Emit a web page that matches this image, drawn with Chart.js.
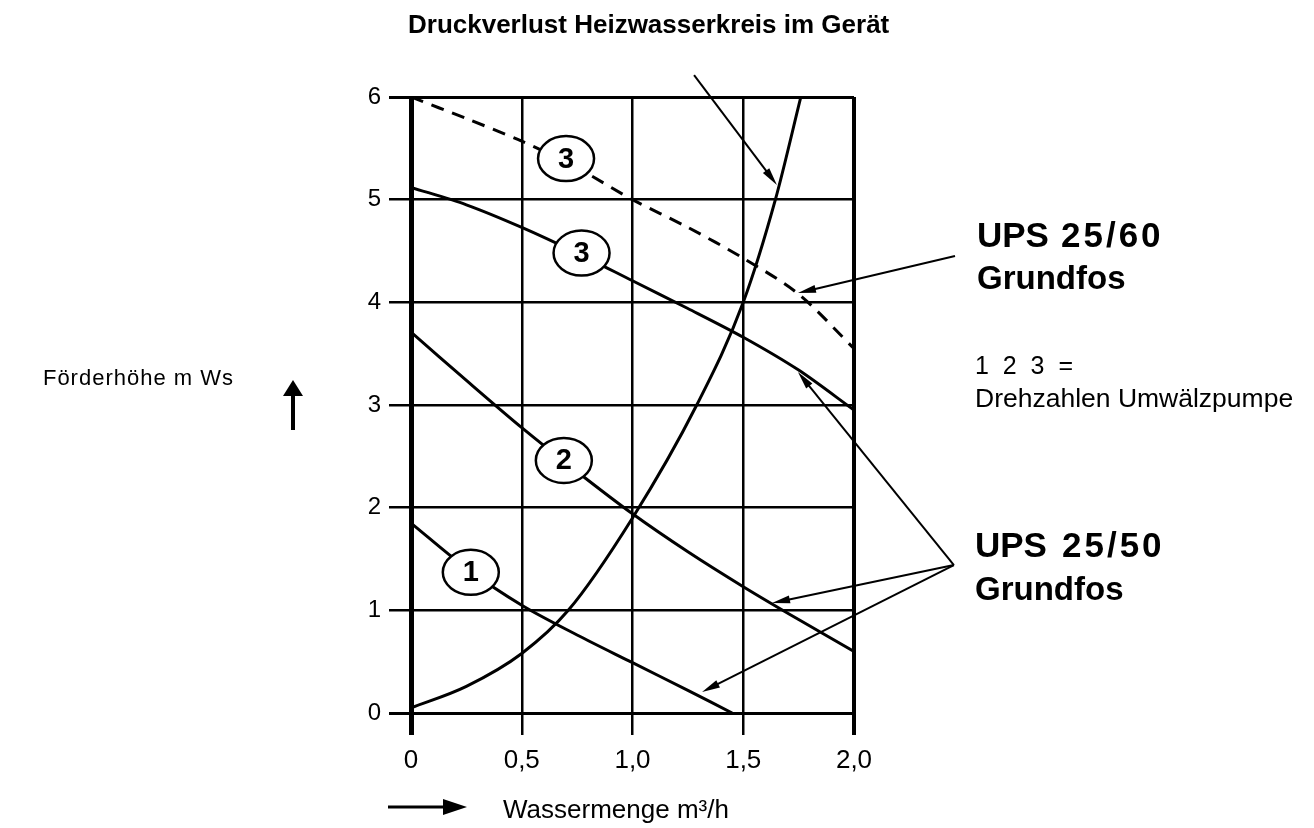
<!DOCTYPE html>
<html>
<head>
<meta charset="utf-8">
<script src="https://cdn.jsdelivr.net/npm/chart.js@4.4.1/dist/chart.umd.min.js"></script>
<style>
  html, body { margin: 0; padding: 0; background: #fff; }
  #wrap { width: 1314px; height: 828px; }
</style>
</head>
<body>
<div id="wrap"><canvas id="chart" width="1314" height="828"></canvas></div>
<script>
// Wassermenge in m³/h, Förderhöhe in m Ws
const flowSteps = [0, 0.25, 0.5, 0.75, 1.0, 1.25, 1.5, 1.75, 2.0];
const headUps60Stufe3 = [6.0, 5.79, 5.57, 5.31, 5.0, 4.73, 4.43, 4.08, 3.55];
const headUps50Stufe3 = [5.12, 4.95, 4.73, 4.48, 4.21, 3.94, 3.66, 3.34, 2.95];
const headUps50Stufe2 = [3.71, 3.24, 2.78, 2.35, 1.94, 1.57, 1.23, 0.91, 0.6];

const flowStufe1 = [0, 0.25, 0.5, 0.75, 1.0, 1.25, 1.45];
const headUps50Stufe1 = [1.85, 1.41, 1.05, 0.76, 0.49, 0.22, 0];

// Druckverlust Heizwasserkreis im Gerät
const flowGeraet = [0, 0.25, 0.5, 0.71, 1.0, 1.29, 1.5, 1.645, 1.76];
const headGeraet = [0.05, 0.26, 0.58, 1.0, 1.9, 3.0, 4.0, 5.0, 6.0];

// circled speed numbers sitting on the curves
const badgeX = [0.70, 0.77, 0.69, 0.27];
const badgeY = [5.40, 4.48, 2.46, 1.37];
const badgeText = ['3', '3', '2', '1'];

const xTickValues = [0, 0.5, 1.0, 1.5, 2.0];
const xTickLabels = ['0', '0,5', '1,0', '1,5', '2,0'];
const yTickValues = [0, 1, 2, 3, 4, 5, 6];
const yTickLabels = ['0', '1', '2', '3', '4', '5', '6'];

const FONT = '"Liberation Sans", Arial, Helvetica, sans-serif';

function pairs(xs, ys) {
    return xs.map((x, i) => ({ x: x, y: ys[i] }));
}

// leader lines, in axis units: [fromX, fromY, toX, toY]
const leaders = [
    [1.278, 6.214, 1.652, 5.143],   // Druckverlust -> Geräte-Kurve
    [2.456, 4.451, 1.747, 4.091],   // UPS 25/60 -> gestrichelte Kurve
    [2.451, 1.441, 1.747, 3.321],   // UPS 25/50 -> Stufe 3
    [2.451, 1.441, 1.630, 1.071],   // UPS 25/50 -> Stufe 2
    [2.451, 1.441, 1.314, 0.205]    // UPS 25/50 -> Stufe 1
];

function arrow(ctx, x1, y1, x2, y2, len, half) {
    const a = Math.atan2(y2 - y1, x2 - x1);
    ctx.beginPath();
    ctx.moveTo(x1, y1);
    ctx.lineTo(x2 - Math.cos(a) * len * 0.5, y2 - Math.sin(a) * len * 0.5);
    ctx.stroke();
    ctx.beginPath();
    ctx.moveTo(x2, y2);
    ctx.lineTo(x2 - len * Math.cos(a) + half * Math.sin(a), y2 - len * Math.sin(a) - half * Math.cos(a));
    ctx.lineTo(x2 - len * Math.cos(a) - half * Math.sin(a), y2 - len * Math.sin(a) + half * Math.cos(a));
    ctx.closePath();
    ctx.fill();
}

const sheetPlugin = {
    id: 'sheet',
    afterDatasetsDraw(chart) {
        const ctx = chart.ctx;
        const sx = chart.scales.x, sy = chart.scales.y;
        ctx.save();
        ctx.strokeStyle = '#000';
        ctx.fillStyle = '#000';
        ctx.lineWidth = 2;
        leaders.forEach(l => {
            arrow(ctx, sx.getPixelForValue(l[0]), sy.getPixelForValue(l[1]),
                sx.getPixelForValue(l[2]), sy.getPixelForValue(l[3]), 18, 4);
        });

        // circled numbers
        badgeX.forEach((bx, i) => {
            const px = sx.getPixelForValue(bx), py = sy.getPixelForValue(badgeY[i]);
            ctx.beginPath();
            ctx.ellipse(px, py, 28, 22.5, 0, 0, Math.PI * 2);
            ctx.fillStyle = '#fff';
            ctx.fill();
            ctx.lineWidth = 2.5;
            ctx.stroke();
            ctx.fillStyle = '#000';
            ctx.font = 'bold 29px ' + FONT;
            ctx.textAlign = 'center';
            ctx.textBaseline = 'middle';
            ctx.fillText(badgeText[i], px, py + 1);
        });
        ctx.restore();
    },
    afterDraw(chart) {
        const ctx = chart.ctx;
        const area = chart.chartArea;
        ctx.save();
        ctx.fillStyle = '#000';
        ctx.strokeStyle = '#000';
        ctx.textBaseline = 'alphabetic';
        ctx.textAlign = 'left';

        ctx.font = 'bold 26px ' + FONT;
        ctx.fillText('Druckverlust Heizwasserkreis im Gerät', 408, 33);

        ctx.font = 'bold 35px ' + FONT;
        ctx.fillText('UPS', 977, 247);
        ctx.fillText('UPS', 975, 557);
        ctx.letterSpacing = '3px';
        ctx.fillText('25/60', 1061, 247);
        ctx.fillText('25/50', 1062, 557);
        ctx.letterSpacing = '0px';
        ctx.font = 'bold 33px ' + FONT;
        ctx.fillText('Grundfos', 977, 289);
        ctx.fillText('Grundfos', 975, 600);

        ctx.font = '25px ' + FONT;
        ctx.fillText('1  2  3  =', 975, 374);
        ctx.font = '26.5px ' + FONT;
        ctx.fillText('Drehzahlen Umwälzpumpe', 975, 407);
        ctx.font = '26px ' + FONT;
        ctx.fillText('Wassermenge m³/h', 503, 818);

        ctx.textAlign = 'right';
        ctx.font = '22px ' + FONT;
        ctx.letterSpacing = '1px';
        ctx.fillText('Förderhöhe m Ws', 234, 385);
        ctx.letterSpacing = '0px';

        // axis direction arrows
        ctx.lineWidth = 4;
        arrow(ctx, area.left - 118, 430, area.left - 118, 380, 16, 10);
        ctx.lineWidth = 3;
        arrow(ctx, 388, 807, 467, 807, 24, 8);
        ctx.restore();
    }
};

new Chart(document.getElementById('chart'), {
    type: 'line',
    data: {
        datasets: [
            {
                label: 'UPS 25/60 Stufe 3',
                data: pairs(flowSteps, headUps60Stufe3),
                borderDash: [13, 9]
            },
            {
                label: 'UPS 25/50 Stufe 3',
                data: pairs(flowSteps, headUps50Stufe3)
            },
            {
                label: 'UPS 25/50 Stufe 2',
                data: pairs(flowSteps, headUps50Stufe2)
            },
            {
                label: 'UPS 25/50 Stufe 1',
                data: pairs(flowStufe1, headUps50Stufe1)
            },
            {
                label: 'Druckverlust Heizwasserkreis im Gerät',
                data: pairs(flowGeraet, headGeraet),
                cubicInterpolationMode: 'monotone'
            }
        ]
    },
    options: {
        responsive: false,
        animation: false,
        devicePixelRatio: 1,
        layout: { padding: { left: 0, right: 460, top: 97, bottom: 55 } },
        plugins: {
            legend: { display: false },
            tooltip: { enabled: false }
        },
        elements: {
            point: { radius: 0 },
            line: {
                borderWidth: 3,
                borderColor: '#000',
                tension: 0.3,
                fill: false
            }
        },
        scales: {
            x: {
                type: 'linear',
                min: 0,
                max: 2,
                afterFit: s => { s.height = 60; },
                afterBuildTicks: s => { s.ticks = xTickValues.map(v => ({ value: v })); },
                ticks: {
                    callback: v => xTickLabels[xTickValues.indexOf(v)],
                    font: { family: FONT, size: 26 },
                    color: '#000',
                    padding: 10,
                    maxRotation: 0
                },
                grid: {
                    color: '#000',
                    lineWidth: c => (c.tick && c.tick.value === 0) ? 5 : (c.tick && c.tick.value === 2) ? 4 : 2.5,
                    tickLength: 22
                },
                border: { display: false }
            },
            y: {
                min: 0,
                max: 6,
                afterFit: s => { s.width = 411; },
                afterBuildTicks: s => { s.ticks = yTickValues.map(v => ({ value: v })); },
                ticks: {
                    callback: v => yTickLabels[yTickValues.indexOf(v)],
                    font: { family: FONT, size: 24 },
                    color: '#000',
                    padding: 8
                },
                grid: {
                    color: '#000',
                    lineWidth: c => (c.tick && (c.tick.value === 0 || c.tick.value === 6)) ? 3 : 2.5,
                    tickLength: 22
                },
                border: { display: false }
            }
        }
    },
    plugins: [sheetPlugin]
});
</script>
</body>
</html>
